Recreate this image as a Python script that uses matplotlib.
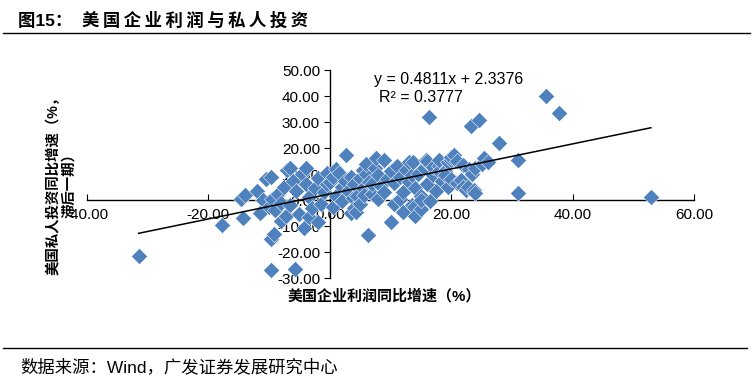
import numpy as np
import matplotlib
matplotlib.use("Agg")
import matplotlib.pyplot as plt

plt.rcParams["font.family"] = ["Liberation Sans", "Noto Sans CJK SC", "DejaVu Sans"]

# US corporate profit yoy (%) vs private investment yoy (%, lagged one period)
profit_yoy = [
    -31.5, -17.8, -14.7, -14.3, -14.0, -12.0, -11.5, -11.0, -10.5, -10.0,
    -9.7, -9.7, -9.7, -9.5, -9.2, -9.0, -8.5, -8.0, -8.0, -7.5,
    -7.2, -7.0, -6.5, -6.5, -6.0, -5.8, -5.5, -5.0, -4.5, -4.3,
    -4.0, -4.0, -3.5, -3.5, -3.0, -2.5, -2.0, -2.0, -1.5, -1.0,
    -0.5, -0.5, 0.0, 0.5, 0.6, 1.0, 1.0, 1.5, 2.0, 2.0,
    2.5, 2.6, 3.0, 3.5, 3.5, 3.8, 4.0, 4.0, 4.3, 4.5,
    5.0, 5.0, 5.5, 5.5, 5.6, 6.0, 6.0, 6.3, 6.5, 7.0,
    7.0, 7.5, 7.6, 8.0, 8.0, 8.5, 9.0, 9.0, 9.5, 10.0,
    10.0, 10.5, 10.5, 11.0, 11.5, 11.5, 12.0, 12.0, 12.5, 13.0,
    13.0, 13.5, 13.5, 13.7, 13.8, 14.0, 14.0, 14.5, 15.0, 15.0,
    15.0, 15.5, 15.8, 16.0, 16.0, 16.0, 16.3, 16.5, 17.0, 17.0,
    17.5, 18.0, 18.0, 18.0, 18.5, 19.0, 19.0, 19.5, 19.5, 20.0,
    20.0, 20.0, 20.4, 21.0, 21.0, 21.6, 22.0, 22.0, 22.5, 22.7,
    23.0, 23.2, 23.5, 23.7, 24.0, 24.0, 24.5, 25.0, 25.4, 26.0,
    27.8, 31.0, 31.0, 35.6, 37.7, 52.9,
]
invest_yoy = [
    -21.5, -9.6, 0.5, -6.8, 2.0, 3.5, -5.0, 0.0, 8.0, -2.5,
    9.0, -15.0, -27.0, 0.5, -13.0, -4.0, 2.5, -1.0, -8.0, 5.0,
    -6.0, 11.5, 12.5, -2.0, 7.5, -26.5, 3.5, -5.5, 10.0, -10.8,
    6.0, 12.3, 1.0, -6.5, -3.0, 4.5, 8.5, -8.5, -1.5, 3.0,
    6.0, 10.5, 7.0, 9.0, -2.7, 12.0, 1.5, 10.5, 5.0, -0.5,
    7.5, 17.3, 3.5, 9.0, -5.0, 0.8, 6.0, -3.0, -4.6, 1.5,
    8.5, -1.5, 4.5, 11.5, 2.0, 10.0, 14.0, -13.5, 7.0, 2.5,
    6.0, 12.5, 16.2, 9.5, 0.5, 5.5, 15.5, 3.0, 8.0, 11.0,
    -8.5, 6.5, -1.5, 13.0, 9.0, 0.5, 3.0, -4.5, 11.5, 7.0,
    14.5, -2.0, 9.5, 14.6, -2.7, 4.5, -6.0, 10.0, 1.5, -3.5,
    0.0, 12.5, 15.4, 6.0, 14.5, 15.0, 32.0, -0.5, 9.5, 12.7,
    3.5, 13.0, 11.0, 15.5, 7.5, 11.0, 9.5, 5.0, 14.5, 15.5,
    8.0, 16.5, 17.3, 6.5, 15.0, 7.7, 5.0, 13.5, 3.8, 5.0,
    12.0, 28.5, 10.0, 3.8, 2.8, 12.5, 30.8, 14.0, 16.2, 14.6,
    21.9, 15.4, 2.7, 40.0, 33.5, 1.2,
]
slope, intercept, r2 = 0.4811, 2.3376, 0.3777

x_ticks = [-40, -20, 0, 20, 40, 60]
y_ticks = [-30, -20, -10, 0, 10, 20, 30, 40, 50]

profit_yoy = np.array(profit_yoy)
invest_yoy = np.array(invest_yoy)

fig = plt.figure(figsize=(7.53, 3.84), dpi=100)
ax = fig.add_axes([87 / 753, 1 - 278 / 384, 607 / 753, 208 / 384])

ax.scatter(profit_yoy, invest_yoy, marker="D", s=68, color="#4F81BD",
           edgecolor="white", linewidth=0.35, zorder=3)
xl = np.array([profit_yoy.min(), profit_yoy.max()])
ax.plot(xl, slope * xl + intercept, color="black", lw=1.1, zorder=4)

ax.set_xlim(-40, 60)
ax.set_ylim(-30, 50)
ax.set_xticks(x_ticks)
ax.set_yticks(y_ticks)
ax.xaxis.set_major_formatter(matplotlib.ticker.FormatStrFormatter("%.2f"))
ax.yaxis.set_major_formatter(matplotlib.ticker.FormatStrFormatter("%.2f"))
for side in ["top", "right"]:
    ax.spines[side].set_visible(False)
ax.spines["left"].set_position(("data", 0))
ax.spines["bottom"].set_position(("data", 0))
for side in ["left", "bottom"]:
    ax.spines[side].set_linewidth(1.0)
    ax.spines[side].set_zorder(2)
ax.tick_params(axis="x", direction="in", length=4, pad=6, labelsize=11)
ax.tick_params(axis="y", direction="out", length=4, pad=3, labelsize=11)

ax.text(19.5, 46.5, f"y = {slope}x + {intercept}", ha="center", va="center",
        fontsize=11.5)
ax.text(8.1, 39.5, f"R² = {r2}", ha="left", va="center", fontsize=11.5)

fig.text(384 / 753, 1 - 296 / 384, "美国企业利润同比增速（%）", ha="center",
         va="center", fontsize=10.8, fontweight="bold")
fig.text(61 / 753, 1 - 182 / 384, "美国私人投资同比增速（%，\n滞后一期）",
         rotation=90, ha="center", va="center", fontsize=10.4,
         fontweight="bold", multialignment="center", linespacing=1.1)

title = "\u2009".join("美国企业利润与私人投资")
fig.text(18 / 753, 1 - 20 / 384, "图15：  " + title, ha="left",
         va="center", fontsize=12.5, fontweight="bold")
fig.add_artist(plt.Line2D([3 / 753, 750 / 753], [1 - 33 / 384] * 2,
                          color="black", lw=1.0))
fig.add_artist(plt.Line2D([3 / 753, 747 / 753], [1 - 348 / 384] * 2,
                          color="black", lw=1.0))
fig.text(20 / 753, 1 - 367 / 384, "数据来源：Wind，广发证券发展研究中心",
         ha="left", va="center", fontsize=12.5)

fig.savefig("out.png", dpi=100)
